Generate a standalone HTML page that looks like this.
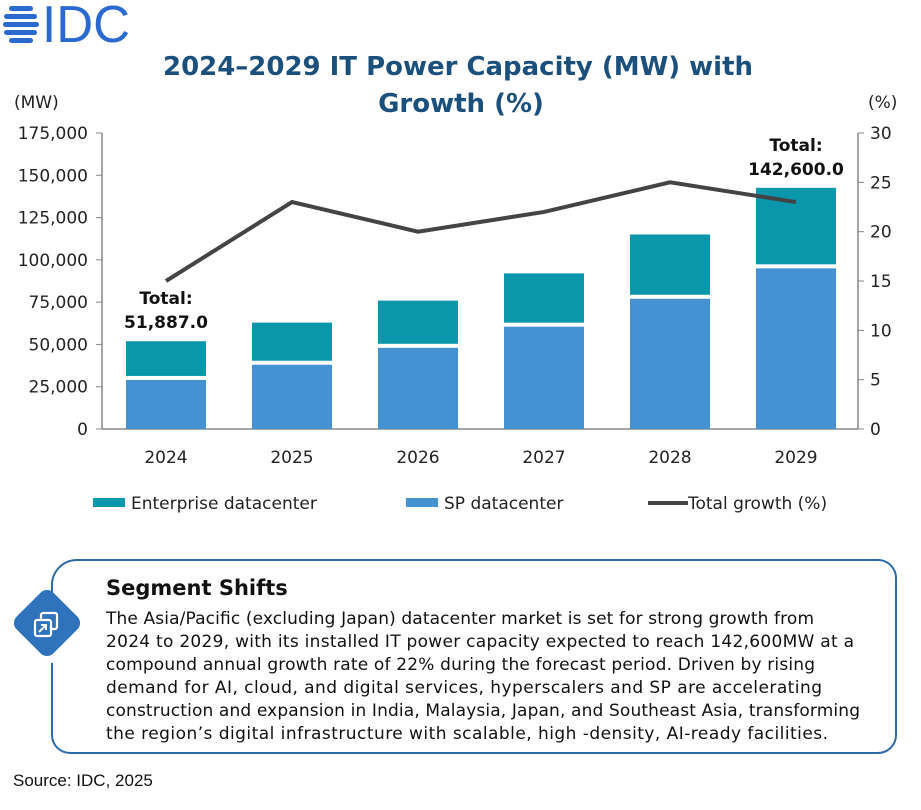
<!DOCTYPE html>
<html><head><meta charset="utf-8"><style>
body{margin:0;background:#fff;width:921px;height:805px;overflow:hidden;font-family:"Liberation Sans","DejaVu Sans",sans-serif;}
svg text{font-family:"DejaVu Sans","Liberation Sans",sans-serif;}
</style></head><body>
<svg width="921" height="805" viewBox="0 0 921 805" xmlns="http://www.w3.org/2000/svg">
<g>
 <g fill="#2a6ad0">
  <rect x="9" y="6" width="24" height="5" rx="2.5"/><rect x="4" y="14" width="33" height="5" rx="2.5"/><rect x="3" y="22" width="36" height="5" rx="2.5"/><rect x="4" y="30" width="33" height="5" rx="2.5"/><rect x="9" y="38" width="24" height="5" rx="2.5"/>
 </g>
 <text x="42" y="42" font-size="52" fill="#2a6ad0" style="font-family:'Liberation Sans'" textLength="88" lengthAdjust="spacingAndGlyphs">IDC</text>
</g>
<text x="458" y="75" text-anchor="middle" font-size="26" font-weight="bold" fill="#1b4f7c" textLength="590" lengthAdjust="spacingAndGlyphs">2024–2029 IT Power Capacity (MW) with</text>
<text x="461" y="112" text-anchor="middle" font-size="26" font-weight="bold" fill="#1b4f7c">Growth (%)</text>
<text x="14" y="108" font-size="17" fill="#222">(MW)</text>
<text x="868" y="108" font-size="17" fill="#222">(%)</text>
<g id="chart"></g>
<g>
 <rect x="93" y="498" width="32" height="9" fill="#0a96ab"/>
 <text x="131" y="509" font-size="17" fill="#222">Enterprise datacenter</text>
 <rect x="406" y="498" width="32" height="9" fill="#4592d2"/>
 <text x="444" y="509" font-size="17" fill="#222">SP datacenter</text>
 <line x1="648" y1="503" x2="688" y2="503" stroke="#444" stroke-width="4"/>
 <text x="688" y="509" font-size="17" fill="#222">Total growth (%)</text>
</g>
<g>
 <path d="M52,602 V585 a25,25 0 0 1 25,-25 H878 a18,18 0 0 1 18,18 V735 a18,18 0 0 1 -18,18 H70 a18,18 0 0 1 -18,-18 V663" fill="none" stroke="#2d6aa8" stroke-width="2"/>
 <rect x="21" y="597" width="52" height="52" rx="9" transform="rotate(45 47 623)" fill="#2e73bb"/>
 <rect x="41" y="613" width="16" height="16" rx="2" fill="none" stroke="#fff" stroke-width="2.2"/>
 <rect x="35" y="620" width="16" height="16" rx="2" fill="#2e73bb" stroke="#fff" stroke-width="2.2"/>
 <path d="M39,632 L46,625 M41,625 H46 V630" stroke="#fff" stroke-width="2" fill="none"/>
 <text x="106" y="595" font-size="21" font-weight="bold" fill="#111">Segment Shifts</text>
 <g font-size="17" fill="#111" lengthAdjust="spacingAndGlyphs">
  <text x="106" y="624" textLength="708">The Asia/Pacific (excluding Japan) datacenter market is set for strong growth from</text>
  <text x="106" y="647" textLength="748">2024 to 2029, with its installed IT power capacity expected to reach 142,600MW at a</text>
  <text x="106" y="670" textLength="709">compound annual growth rate of 22% during the forecast period. Driven by rising</text>
  <text x="106" y="693" textLength="716">demand for AI, cloud, and digital services,   hyperscalers  and SP are accelerating</text>
  <text x="106" y="716" textLength="754">construction and expansion in India, Malaysia, Japan, and Southeast Asia, transforming</text>
  <text x="106" y="739" textLength="722">the region’s digital infrastructure with scalable, high   -density, AI-ready facilities.</text>
 </g>
</g>
<text x="13" y="786" font-size="17" fill="#111" style="font-family:'Liberation Sans'">Source: IDC, 2025</text>
</svg>
<script>
const years=["2024","2025","2026","2027","2028","2029"];
const spValues=[29000,38000,48000,60500,77000,95000];
const totalValues=[51887,62900,75900,92000,115000,142600];
const growthValues=[15,23,20,22,25,23];
const leftTicks=[0,25000,50000,75000,100000,125000,150000,175000];
const rightTicks=[0,5,10,15,20,25,30];
const NS="http://www.w3.org/2000/svg";
const g=document.getElementById('chart');
const X0=102,X1=858,Y0=429,Y1=133,step=126,bw=80;
const yL=v=>Y0-(v/175000)*(Y0-Y1);
const yR=v=>Y0-(v/30)*(Y0-Y1);
const xC=i=>166+i*step;
function el(t,a){const e=document.createElementNS(NS,t);for(const k in a)e.setAttribute(k,a[k]);g.appendChild(e);return e;}
let e;
e=el('line',{x1:X0,y1:Y1,x2:X0,y2:Y0,stroke:'#888','stroke-width':1.5});

e=el('line',{x1:X1,y1:Y1,x2:X1,y2:Y0,stroke:'#888','stroke-width':1.5});

e=el('line',{x1:X0,y1:Y0,x2:X1,y2:Y0,stroke:'#888','stroke-width':1.5});

leftTicks.forEach(v=>{
 el('line',{x1:X0-6,y1:yL(v),x2:X0,y2:yL(v),stroke:'#888'});
 const t=el('text',{x:X0-14,y:yL(v)+6,'text-anchor':'end','font-size':17,fill:'#222'});
 t.textContent=v.toLocaleString('en-US');
 
 
});
rightTicks.forEach(v=>{
 el('line',{x1:X1,y1:yR(v),x2:X1+6,y2:yR(v),stroke:'#888'});
 const t=el('text',{x:X1+12,y:yR(v)+6,'font-size':17,fill:'#222'});
 t.textContent=v;
 
 
});
years.forEach((y,i)=>{
 const x=xC(i)-bw/2;
 const r1=el('rect',{x:x,y:yL(spValues[i]),width:bw,height:Y0-yL(spValues[i]),fill:'#4592d2'});
 
 
 const r2=el('rect',{x:x,y:yL(totalValues[i]),width:bw,height:yL(spValues[i])-yL(totalValues[i])-4,fill:'#0a96ab'});
 
 
 const t=el('text',{x:xC(i),y:Y0+34,'text-anchor':'middle','font-size':17,fill:'#222'});
 t.textContent=y;
 
 
});
const pl=el('polyline',{points:growthValues.map((v,i)=>xC(i)+','+yR(v)).join(' '),fill:'none',stroke:'#444','stroke-width':4});


[[0],[5]].forEach(([i])=>{
 const y=yL(totalValues[i]);
 const a=el('text',{x:xC(i),y:y-37,'text-anchor':'middle','font-size':17,'font-weight':'bold',fill:'#111'});
 a.textContent='Total:';
 
 
 const b=el('text',{x:xC(i),y:y-13,'text-anchor':'middle','font-size':17,'font-weight':'bold',fill:'#111'});
 b.textContent=totalValues[i].toLocaleString('en-US',{minimumFractionDigits:1,maximumFractionDigits:1});
 
 
});
</script>
</body></html>
